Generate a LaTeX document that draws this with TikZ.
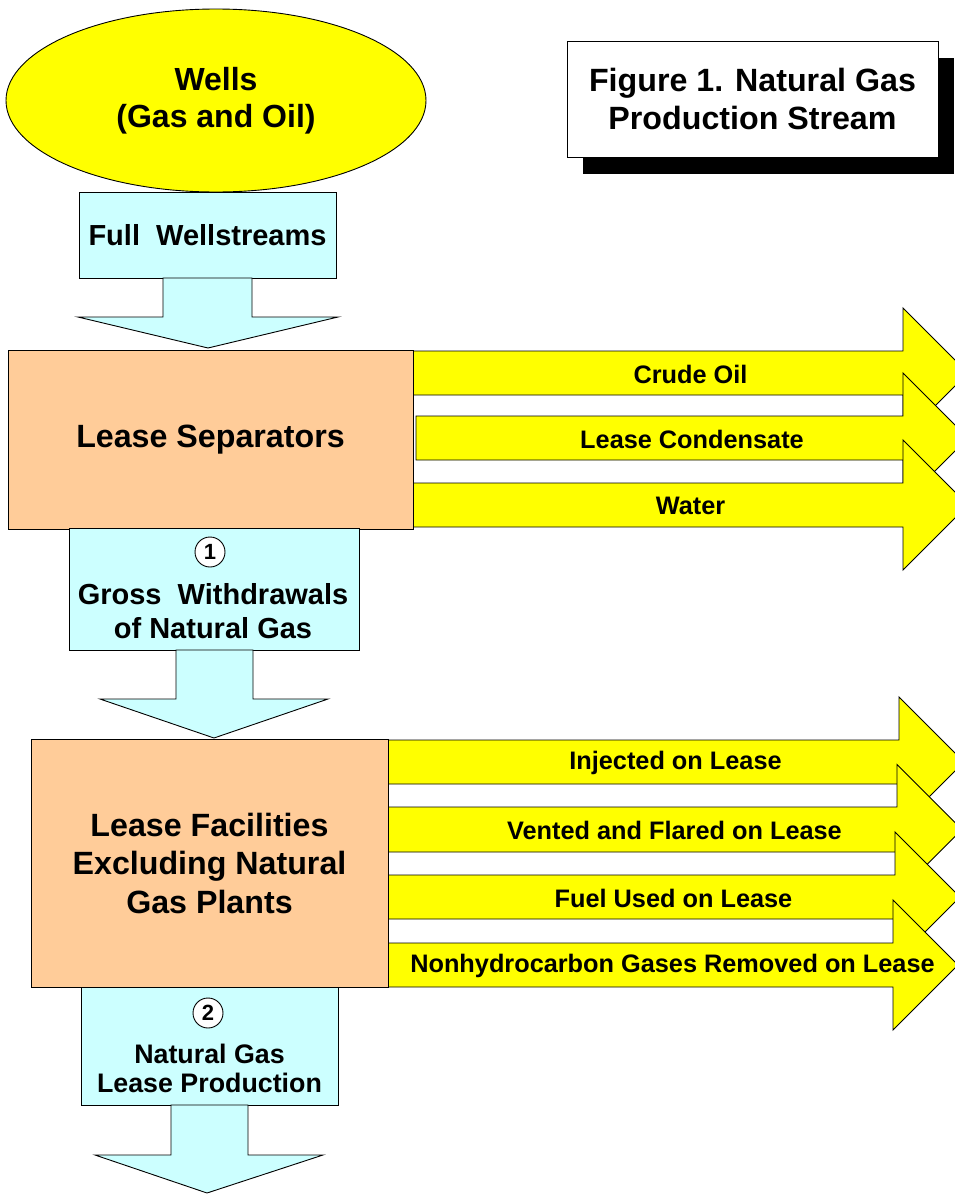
\documentclass[tikz,border=0pt]{standalone}
\usepackage{fontspec}
\setmainfont{Liberation Sans}
\usetikzlibrary{shapes.geometric}
\definecolor{wellyellow}{RGB}{255,255,0}
\definecolor{flowcyan}{RGB}{204,255,255}
\definecolor{peach}{RGB}{255,204,153}
\newcommand{\setfs}[2]{\fontsize{#1}{#2}\selectfont}
% right-pointing block arrow: name, x start, y top, y bottom, head base x, label
\newcommand{\rightblock}[6]{%
  \path[yarrow] (#2,#3) -- (#5,#3) -- (#5,{(#3+#4)/2-65}) -- ({#5+65},{(#3+#4)/2})
     -- (#5,{(#3+#4)/2+65}) -- (#5,#4) -- (#2,#4) -- cycle;
  \node[ylabel] (#1) at ({(#2+#5+65)/2},{(#3+#4)/2+1}) {#6};
}
% down-pointing block arrow: shaft x1, shaft x2, y top, head y, head x1, head x2, tip x, tip y
\newcommand{\downblock}[8]{%
  \path[carrow] (#1,#3) -- (#2,#3) -- (#2,#4) -- (#6,#4) -- (#7,#8) -- (#5,#4) -- (#1,#4) -- cycle;
}
\begin{document}
\begin{tikzpicture}[x=1pt,y=-1pt,line join=miter,
  outline/.style={draw=black,line width=0.9pt},
  carrow/.style={outline,fill=flowcyan},
  yarrow/.style={outline,fill=wellyellow},
  cbox/.style={outline,fill=flowcyan,rectangle,inner sep=0pt},
  pbox/.style={outline,fill=peach,rectangle,inner sep=0pt,align=center,font=\bfseries\setfs{32.2}{38.5}},
  ylabel/.style={font=\bfseries\setfs{25.3}{30},inner sep=0pt},
  boxtext/.style={font=\bfseries\setfs{29}{34},align=center,inner sep=0pt},
  numcircle/.style={circle,draw=black,line width=0.9pt,fill=white,minimum size=30pt,inner sep=0pt,font=\bfseries\setfs{22}{24}}]
\clip (0,0) rectangle (955,1194);

% title with shadow
\fill[black] (583,58) rectangle (954,174);
\node[outline,fill=white,rectangle,minimum width=371pt,minimum height=116pt,inner sep=0pt,
  align=center,font=\bfseries\setfs{32.2}{38}] (title) at (752.5,99) {Figure 1. Natural Gas\\Production Stream};

% wells
\node[ellipse,outline,fill=wellyellow,minimum width=420pt,minimum height=183pt,inner sep=0pt,
  align=center,font=\bfseries\setfs{32}{37}] (wells) at (216,100.5) {Wells\\(Gas and Oil)};

% full wellstreams
\node[cbox,minimum width=257pt,minimum height=86pt,font=\bfseries\setfs{29}{34}] (fw) at (207.5,235) {Full~ Wellstreams};
\downblock{163}{252}{278}{317}{78}{338}{208}{348}

% lease separators and its outflows
\rightblock{crude}{413}{351}{395}{903}{Crude Oil}
\rightblock{cond}{416}{416}{460}{903}{Lease Condensate}
\rightblock{water}{413}{483}{527}{903}{Water}
\node[pbox,minimum width=405pt,minimum height=179pt] (sep) at (210.5,439.5) {Lease Separators};

% gross withdrawals
\node[cbox,minimum width=290pt,minimum height=122pt] (gw) at (214,589) {};
\node[numcircle] (n1) at (210,552) {1};
\node[boxtext] (gwtext) at (213,611) {Gross~ Withdrawals\\of Natural Gas};
\downblock{176}{253}{650}{699}{100}{328}{214}{738}

% lease facilities and its outflows
\rightblock{inj}{387}{740}{784}{899}{Injected on Lease}
\rightblock{vent}{387}{807}{852}{897}{Vented and Flared on Lease}
\rightblock{fuel}{387}{875}{919}{895}{Fuel Used on Lease}
\rightblock{nonhc}{387}{943}{987}{893}{Nonhydrocarbon Gases Removed on Lease}
\node[pbox,minimum width=357pt,minimum height=248pt] (lf) at (209.5,863) {Lease Facilities\\Excluding Natural\\Gas Plants};

% natural gas lease production
\node[cbox,minimum width=257pt,minimum height=118pt] (np) at (209.5,1046) {};
\node[numcircle] (n2) at (208,1013) {2};
\node[boxtext,font=\bfseries\setfs{26.8}{29}] (nptext) at (209.5,1068) {Natural Gas\\Lease Production};
\downblock{171}{248}{1105}{1155}{95}{323}{207}{1193}
\end{tikzpicture}
\end{document}
